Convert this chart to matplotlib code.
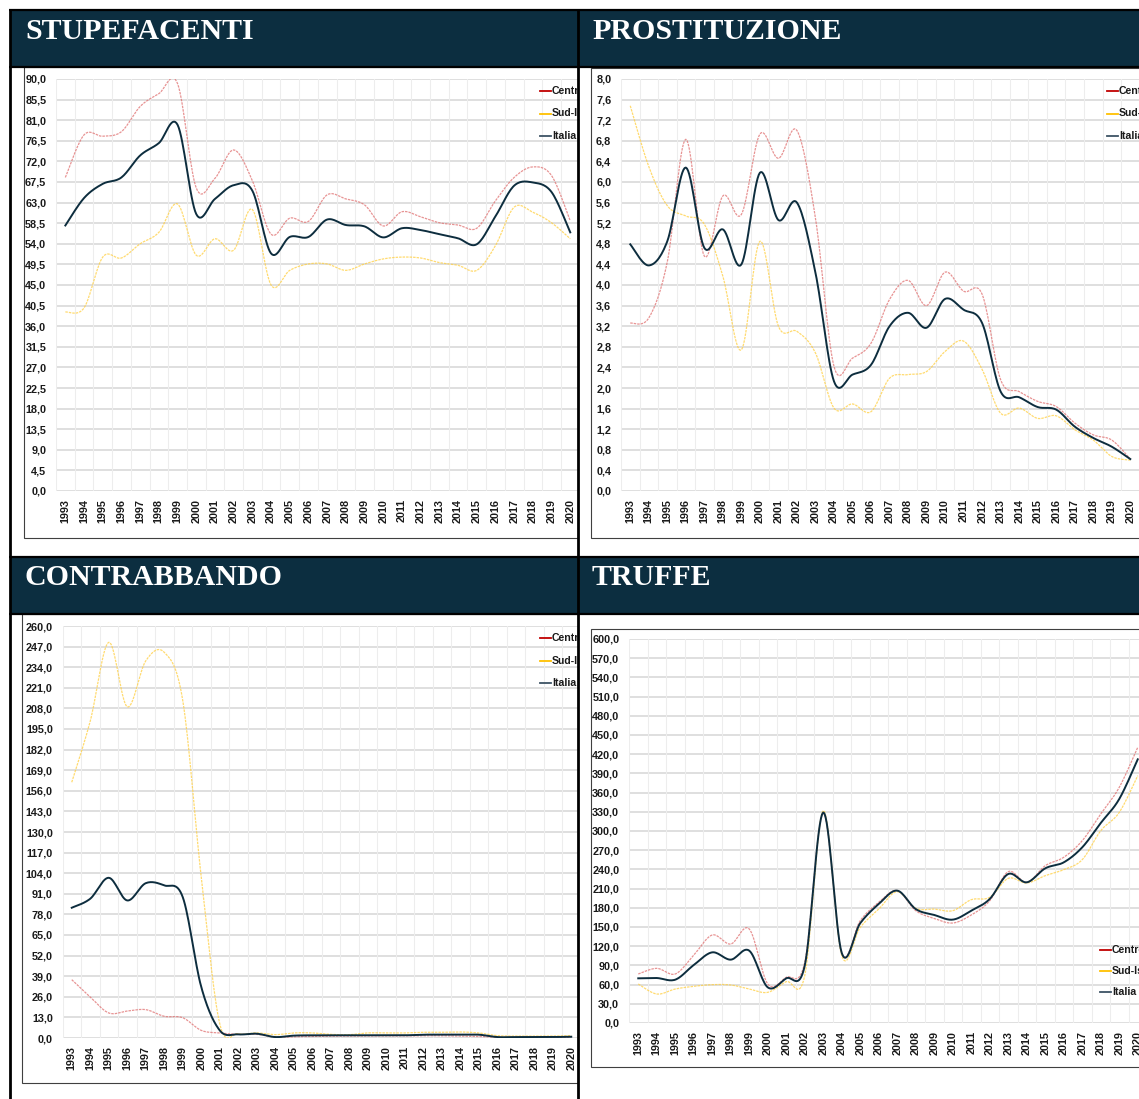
import numpy as np
import matplotlib.pyplot as plt
from matplotlib.patches import Rectangle
from matplotlib.lines import Line2D
from matplotlib.transforms import Bbox, TransformedBbox

W, H = 1139, 1099

years = [str(y) for y in range(1993, 2021)]
series_names = ['Centro-Nord', 'Sud-Isole', 'Italia']

# STUPEFACENTI
stup_centro = [68.5, 77.8, 77.5, 78.5, 84.0, 86.8, 89.0, 66.2, 68.3, 74.5, 67.8, 56.1, 59.6, 58.9,
               64.7, 63.8, 62.5, 57.9, 61.0, 59.9, 58.6, 58.1, 57.4, 63.4, 68.5, 70.8, 68.9, 59.0]
stup_sud = [39.1, 40.0, 51.1, 50.9, 54.0, 56.5, 62.7, 51.5, 55.1, 52.6, 61.5, 45.0, 48.2, 49.6,
            49.6, 48.2, 49.6, 50.7, 51.1, 50.9, 49.9, 49.3, 48.2, 53.6, 62.0, 60.9, 58.6, 55.1]
stup_italia = [58.0, 64.0, 67.1, 68.5, 73.3, 76.0, 80.0, 60.5, 63.8, 66.8, 65.6, 51.9, 55.5, 55.5,
               59.3, 58.1, 57.8, 55.4, 57.4, 57.0, 56.1, 55.2, 53.9, 60.0, 66.7, 67.4, 65.3, 56.5]

# PROSTITUZIONE
prost_centro = [3.26, 3.36, 4.45, 6.83, 4.56, 5.73, 5.37, 6.93, 6.46, 7.00, 5.30, 2.42, 2.58, 2.87,
                3.72, 4.09, 3.60, 4.25, 3.88, 3.82, 2.16, 1.93, 1.74, 1.64, 1.32, 1.09, 0.99, 0.62]
prost_sud = [7.48, 6.30, 5.54, 5.34, 5.18, 4.17, 2.74, 4.85, 3.20, 3.10, 2.68, 1.61, 1.69, 1.54,
             2.19, 2.26, 2.32, 2.71, 2.91, 2.36, 1.51, 1.61, 1.41, 1.46, 1.19, 0.99, 0.67, 0.60]
prost_italia = [4.79, 4.38, 4.85, 6.28, 4.72, 5.08, 4.40, 6.18, 5.26, 5.60, 4.24, 2.13, 2.26, 2.45,
                3.20, 3.46, 3.17, 3.73, 3.52, 3.26, 1.93, 1.82, 1.63, 1.58, 1.25, 1.03, 0.86, 0.62]

# CONTRABBANDO
contr_centro = [36.8, 25.9, 15.8, 17.0, 17.9, 13.7, 12.8, 4.8, 3.2, 2.3, 2.3, 0.6, 0.8, 1.0,
                1.2, 1.2, 1.3, 1.3, 1.3, 1.4, 1.4, 1.2, 1.0, 0.4, 0.3, 0.3, 0.3, 0.4]
contr_sud = [161.4, 200.0, 249.7, 209.0, 238.0, 243.4, 213.0, 101.5, 9.0, 2.7, 3.2, 2.1, 3.2, 3.2,
             2.3, 2.1, 3.2, 3.2, 3.2, 3.6, 3.6, 3.8, 3.2, 1.5, 1.2, 1.2, 1.2, 1.5]
contr_italia = [82.2, 87.9, 101.1, 86.8, 97.7, 96.3, 88.9, 32.2, 4.8, 2.3, 2.7, 0.6, 1.5, 1.7,
                1.7, 1.7, 1.7, 1.7, 1.7, 2.1, 2.1, 2.1, 2.1, 0.6, 0.6, 0.6, 0.6, 0.8]

# TRUFFE
truffe_centro = [76.6, 85.4, 76.6, 106.0, 137.5, 123.4, 146.9, 61.0, 71.4, 94.8, 328.0, 109.4, 160.0, 188.5,
                 206.8, 175.5, 163.5, 156.2, 168.8, 191.0, 236.5, 219.8, 245.8, 258.9, 284.9, 326.6, 368.2, 430.7]
truffe_sud = [61.0, 45.3, 53.1, 57.3, 59.9, 59.4, 53.1, 47.9, 64.6, 74.0, 331.8, 105.2, 149.5, 178.0,
              205.2, 179.2, 178.0, 175.5, 192.7, 196.4, 226.0, 218.8, 230.2, 239.6, 255.2, 300.5, 329.0, 386.5]
truffe_italia = [69.8, 70.3, 67.7, 90.6, 110.4, 99.0, 113.0, 55.7, 69.8, 89.6, 329.0, 109.4, 156.0, 186.0,
                 206.8, 178.0, 168.8, 161.5, 175.5, 193.8, 232.8, 219.8, 241.7, 251.0, 274.5, 312.5, 350.0, 412.0]

NAVY = '#0c2e40'
FONT = ['Liberation Sans', 'DejaVu Sans']

fig = plt.figure(figsize=(W / 100, H / 100), dpi=100)
fig.patch.set_facecolor('white')


def fx(x):
    return x / W


def fy(y):
    return 1 - y / H


def box(x0, y0, x1, y1, z, **kw):
    fig.add_artist(Rectangle((fx(x0), fy(y1)), (x1 - x0) / W, (y1 - y0) / H,
                             transform=fig.transFigure, zorder=z, **kw))


def seg(x0, y0, x1, y1, z, **kw):
    fig.add_artist(Line2D([fx(x0), fx(x1)], [fy(y0), fy(y1)], transform=fig.transFigure, zorder=z, **kw))


def smooth(y, n=16):
    # excel-like smoothed line (bezier through the points)
    y = np.asarray(y, float)
    x = np.arange(len(y), dtype=float)
    xs, ys = [], []
    t = np.linspace(0, 1, n, endpoint=False)
    for i in range(len(y) - 1):
        i0, i3 = max(i - 1, 0), min(i + 2, len(y) - 1)
        for src, out in ((x, xs), (y, ys)):
            p0, p1, p2, p3 = src[i0], src[i], src[i + 1], src[i3]
            c1 = p1 + (p2 - p0) / 6
            c2 = p2 - (p3 - p1) / 6
            out.append((1 - t) ** 3 * p1 + 3 * (1 - t) ** 2 * t * c1 + 3 * (1 - t) * t ** 2 * c2 + t ** 3 * p2)
    return np.append(np.concatenate(xs), x[-1]), np.append(np.concatenate(ys), y[-1])


# texts of the left column are cut at the middle divider, as in the source
left_clip = TransformedBbox(Bbox([[0, 0], [fx(576.5), 1]]), fig.transFigure)


def panel(title, tx, ty, frame, plot, ymax, ystep, data, leg, z, clip=None):
    left, top, bottom, step = plot
    box(frame[0], frame[1], frame[2], frame[3], z, facecolor='white', edgecolor='#404040', lw=0.8)
    ax = fig.add_axes([fx(left), fy(bottom), step * 28 / W, (bottom - top) / H])
    ax.set_zorder(z + 0.5)
    ax.patch.set_alpha(0)
    ax.set_xlim(-0.5, 27.5)
    ax.set_ylim(0, ymax)
    yt = np.arange(0, ymax + ystep / 2, ystep)
    ax.set_yticks(yt)
    ax.set_yticklabels([f'{v:.1f}'.replace('.', ',') for v in yt])
    ax.set_xticks(range(len(years)))
    ax.set_xticklabels(years, rotation=90)
    for lab in ax.get_xticklabels() + ax.get_yticklabels():
        lab.set_fontfamily(FONT)
        lab.set_fontweight('bold')
        lab.set_fontsize(7.8)
        lab.set_color('#1a1a1a')
    ax.tick_params(axis='y', length=0, pad=7)
    ax.tick_params(axis='x', length=0, pad=5.5)
    for s in ax.spines.values():
        s.set_visible(False)
    for v in yt:
        ax.axhline(v, color='#dcdcdc', lw=1.3, zorder=0)
    for k in range(29):
        ax.axvline(k - 0.5, color='#ededed', lw=0.8, zorder=0)

    centro, sud, italia = data
    xs, ys = smooth(centro)
    ax.plot(xs, ys, color='#e07070', lw=0.9, alpha=0.75, ls=(0, (2, 0.8)), zorder=3)
    xs, ys = smooth(sud)
    ax.plot(xs, ys, color='#ffcf40', lw=0.9, alpha=0.75, ls=(0, (2, 0.8)), zorder=3)
    xs, ys = smooth(italia)
    ax.plot(xs, ys, color='#0d2d3e', lw=1.4, zorder=4)

    # legend
    lx, ly, dy = leg
    for i, (name, c) in enumerate(zip(series_names, ['#c00000', '#ffc000', '#3d5364'])):
        yy = ly + i * dy
        seg(lx, yy, lx + 11, yy, z + 1, color=c, lw=1.3)
        t = fig.text(fx(lx + 12), fy(yy), name, ha='left', va='center', fontsize=7.6, fontweight='bold',
                     family=FONT, color='#1a1a1a', zorder=z + 1)
        if clip is not None:
            t.set_clip_box(clip)
            t.set_clip_on(True)

    fig.text(fx(tx), fy(ty), title, ha='left', va='baseline', color='white', fontsize=21.5,
             fontweight='bold', family=['Liberation Serif', 'DejaVu Serif'], zorder=8)


# white cover for the right-hand panels (hides what spills over from the left)
box(578, 67, W + 5, 557, 3, facecolor='white', edgecolor='none')
box(578, 613, W + 5, H + 5, 3, facecolor='white', edgecolor='none')

panel('STUPEFACENTI', 25, 39, (24, 67, 640, 538), (56, 79, 491, 18.7), 90, 4.5,
      (stup_centro, stup_sud, stup_italia), (540, 91, 22.5), 1, left_clip)
panel('PROSTITUZIONE', 592, 39, (591, 68, W + 20, 538), (621, 79, 491, 18.52), 8, 0.4,
      (prost_centro, prost_sud, prost_italia), (1107, 91, 22.5), 4)
panel('CONTRABBANDO', 25, 585, (22, 614, 640, 1083), (62.5, 626, 1038, 18.5), 260, 13,
      (contr_centro, contr_sud, contr_italia), (540, 638, 22.5), 1, left_clip)
panel('TRUFFE', 592, 585, (591, 629, W + 20, 1067), (629, 639, 1023, 18.5), 600, 30,
      (truffe_centro, truffe_sud, truffe_italia), (1100, 950, 21), 4)

# header bands
box(10, 10, W + 5, 66, 7, facecolor=NAVY, edgecolor='none')
box(10, 557, W + 5, 613, 7, facecolor=NAVY, edgecolor='none')

# black frame lines
k = dict(color='black', solid_capstyle='butt')
seg(9, 10, W, 10, 9, lw=1.6, **k)
seg(10, 10, 10, H, 9, lw=2.0, **k)
seg(577.5, 10, 577.5, H, 9, lw=2.0, **k)
seg(9, 557, W, 557, 9, lw=1.6, **k)
seg(9, 66.5, W, 66.5, 9, lw=1.6, **k)
seg(9, 613.5, W, 613.5, 9, lw=1.6, **k)

plt.savefig('out.png', dpi=100)
